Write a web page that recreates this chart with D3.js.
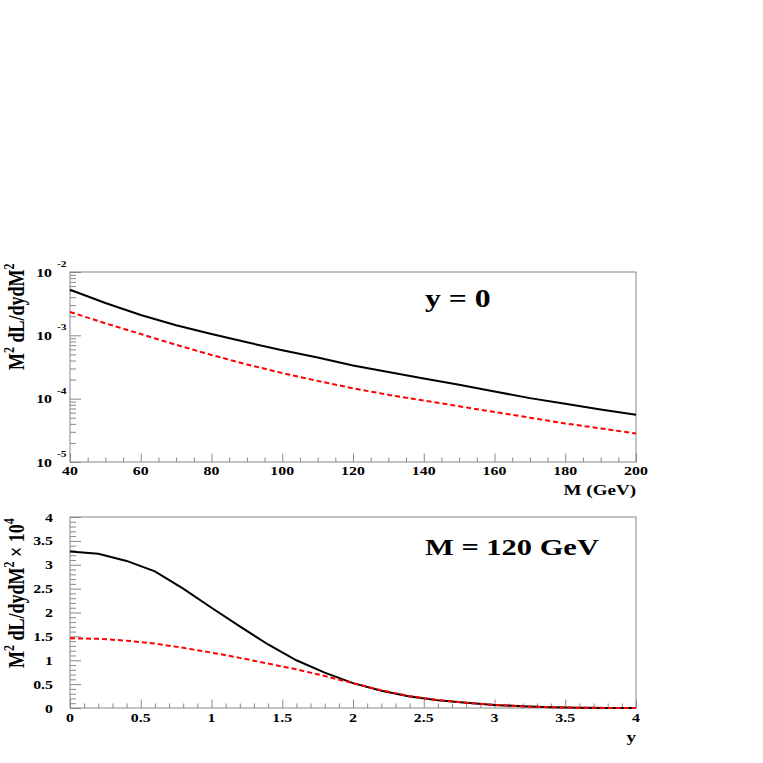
<!DOCTYPE html>
<html>
<head>
<meta charset="utf-8">
<script src="https://cdn.jsdelivr.net/npm/d3@7"></script>
<style>
  body { margin: 0; background: #fff; }
  text { font-family: "Liberation Serif", "Times New Roman", serif; font-weight: bold; fill: #000; }
</style>
</head>
<body>
<svg id="chart" width="763" height="763"></svg>
<script>
// upper panel: y = 0, versus M
var massGeV = [40, 50, 60, 70, 80, 90, 100, 110, 120, 130, 140, 150, 160, 170, 180, 190, 200];
var lumiSolid = [5.25e-3, 3.24e-3, 2.09e-3, 1.445e-3, 1.047e-3, 7.76e-4, 5.82e-4, 4.47e-4, 3.35e-4,
                 2.63e-4, 2.09e-4, 1.66e-4, 1.30e-4, 1.02e-4, 8.32e-5, 6.76e-5, 5.56e-5];
var lumiDashed = [2.34e-3, 1.55e-3, 1.047e-3, 7.08e-4, 4.90e-4, 3.47e-4, 2.54e-4, 1.91e-4, 1.46e-4,
                  1.15e-4, 9.33e-5, 7.59e-5, 6.17e-5, 5.01e-5, 4.07e-5, 3.39e-5, 2.82e-5];
var massTicks = [40, 60, 80, 100, 120, 140, 160, 180, 200];
var decadeTicks = [1e-5, 1e-4, 1e-3, 1e-2];
var decadeExp = ["-5", "-4", "-3", "-2"];

// lower panel: M = 120 GeV, versus rapidity (x 10^4)
var rapidity = [0, 0.2, 0.4, 0.6, 0.8, 1.0, 1.2, 1.4, 1.6, 1.8, 2.0, 2.2, 2.4, 2.6, 2.8, 3.0, 3.2, 3.4, 3.6, 3.8, 4.0];
var rapSolid = [3.28, 3.23, 3.08, 2.86, 2.50, 2.10, 1.71, 1.33, 1.00, 0.74, 0.52, 0.36, 0.24, 0.16, 0.11,
                0.065, 0.035, 0.015, 0.006, 0.002, 0.0005];
var rapDashed = [1.46, 1.45, 1.41, 1.35, 1.26, 1.16, 1.05, 0.93, 0.81, 0.67, 0.52, 0.37, 0.25, 0.165, 0.11,
                 0.065, 0.035, 0.015, 0.006, 0.002, 0.0005];
var rapTicks = [0, 0.5, 1, 1.5, 2, 2.5, 3, 3.5, 4];
var rapTickText = ["0", "0.5", "1", "1.5", "2", "2.5", "3", "3.5", "4"];

var svg = d3.select("#chart");
var SX = 1.27; // text in the original is drawn wide
var frameCol = "#888";

var left = 70, right = 636;
var top1 = 272, bot1 = 462;
var top2 = 517, bot2 = 708;

var x1 = d3.scaleLinear().domain([40, 200]).range([left, right]);
var y1 = d3.scaleLog().domain([1e-5, 1e-2]).range([bot1, top1]);
var x2 = d3.scaleLinear().domain([0, 4]).range([left, right]);
var y2 = d3.scaleLinear().domain([0, 4]).range([bot2, top2]);

function wideText(g, x, y, str, size, anchor) {
  return g.append("text")
    .attr("transform", "translate(" + x + "," + y + ") scale(" + SX + ",1)")
    .attr("text-anchor", anchor || "start")
    .style("font-size", size + "px")
    .text(str);
}

function frame(t, b) {
  svg.append("rect").attr("x", left).attr("y", t)
    .attr("width", right - left).attr("height", b - t)
    .attr("fill", "none").attr("stroke", frameCol).attr("stroke-width", 1);
}

function tickAxis(axis, tx, ty) {
  var g = svg.append("g").attr("transform", "translate(" + tx + "," + ty + ")").call(axis);
  g.select(".domain").remove();
  g.selectAll("line").attr("stroke", frameCol);
  return g;
}

// rotated y title, text runs upward from (x, yStart)
function yTitle(x, yStart, parts) {
  var t = svg.append("text")
    .attr("transform", "translate(" + x + "," + yStart + ") scale(" + SX + ",1) rotate(-90)")
    .style("font-size", "18px");
  parts.forEach(function(p) {
    if (p.sup) {
      t.append("tspan").attr("dy", -7.5).style("font-size", "12px").text(p.s);
    } else {
      t.append("tspan").attr("dy", p.first ? 0 : 7.5).text(p.s);
    }
  });
}

// ---------- upper panel ----------
frame(top1, bot1);

var minorMass = d3.range(45, 200, 5).filter(function(d) { return d % 20 != 0; });
tickAxis(d3.axisBottom(x1).tickValues(minorMass).tickSize(-4.5).tickFormat(""), 0, bot1);
tickAxis(d3.axisBottom(x1).tickValues(massTicks).tickSize(-8.5).tickFormat(""), 0, bot1);
massTicks.forEach(function(m) {
  wideText(svg, x1(m), 475, String(m), 12.5, "middle");
});

var minorLog = [];
[1e-5, 1e-4, 1e-3].forEach(function(dec) {
  for (var k = 2; k <= 9; k++) minorLog.push(dec * k);
});
tickAxis(d3.axisLeft(y1).tickValues(minorLog).tickSize(-6).tickFormat(""), left, 0);
tickAxis(d3.axisLeft(y1).tickValues(decadeTicks).tickSize(-11).tickFormat(""), left, 0);
decadeTicks.forEach(function(v, i) {
  wideText(svg, left - 18, y1(v) + 4.5, "10", 12.5, "end");
  wideText(svg, left - 13, y1(v) - 5, decadeExp[i], 9, "start");
});

var line1 = d3.line().x(function(d) { return x1(d[0]); }).y(function(d) { return y1(d[1]); });
svg.append("path")
  .datum(d3.zip(massGeV, lumiDashed))
  .attr("d", line1).attr("fill", "none")
  .attr("stroke", "#ff0000").attr("stroke-width", 2).attr("stroke-dasharray", "5,3");
svg.append("path")
  .datum(d3.zip(massGeV, lumiSolid))
  .attr("d", line1).attr("fill", "none")
  .attr("stroke", "#000").attr("stroke-width", 2);

wideText(svg, 425, 306.5, "y = 0", 25, "start");
wideText(svg, right, 495, "M (GeV)", 15, "end");

yTitle(24, 370, [{s: "M", first: true}, {s: "2", sup: true}, {s: " dL/dydM"}, {s: "2", sup: true}]);

// ---------- lower panel ----------
frame(top2, bot2);

var minorRap = d3.range(1, 40).map(function(i) { return i / 10; })
  .filter(function(d) { return Math.abs(d * 2 - Math.round(d * 2)) > 1e-6; });
tickAxis(d3.axisBottom(x2).tickValues(minorRap).tickSize(-4.5).tickFormat(""), 0, bot2);
tickAxis(d3.axisBottom(x2).tickValues(rapTicks).tickSize(-8.5).tickFormat(""), 0, bot2);
rapTicks.forEach(function(v, i) {
  wideText(svg, x2(v), 722, rapTickText[i], 12.5, "middle");
});

tickAxis(d3.axisLeft(y2).tickValues(minorRap).tickSize(-6).tickFormat(""), left, 0);
tickAxis(d3.axisLeft(y2).tickValues(rapTicks).tickSize(-11).tickFormat(""), left, 0);
rapTicks.forEach(function(v, i) {
  wideText(svg, left - 17, y2(v) + 4.5, rapTickText[i], 12.5, "end");
});

var line2 = d3.line().x(function(d) { return x2(d[0]); }).y(function(d) { return y2(d[1]); });
svg.append("path")
  .datum(d3.zip(rapidity, rapSolid))
  .attr("d", line2).attr("fill", "none")
  .attr("stroke", "#000").attr("stroke-width", 2);
svg.append("path")
  .datum(d3.zip(rapidity, rapDashed))
  .attr("d", line2).attr("fill", "none")
  .attr("stroke", "#ff0000").attr("stroke-width", 2).attr("stroke-dasharray", "5,3");

wideText(svg, 425, 555, "M = 120 GeV", 24, "start");
wideText(svg, right, 742, "y", 15, "end");

yTitle(24, 668, [{s: "M", first: true}, {s: "2", sup: true}, {s: " dL/dydM"}, {s: "2", sup: true},
                 {s: " \u00d7 10"}, {s: "4", sup: true}]);
</script>
</body>
</html>
